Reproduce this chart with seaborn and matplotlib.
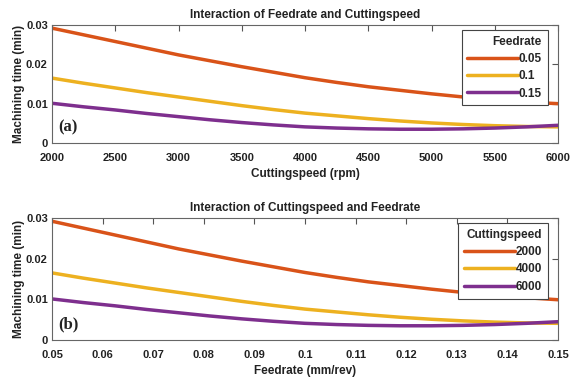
import numpy as np
import pandas as pd
import matplotlib
matplotlib.use("Agg")
import matplotlib.pyplot as plt
import seaborn as sns

# Cutting speed sweep (rpm) for three feed rates
speed = [2000, 2250, 2500, 2750, 3000, 3250, 3500, 3750, 4000,
         4250, 4500, 4750, 5000, 5250, 5500, 5750, 6000]
feed_levels = ["0.05", "0.1", "0.15"]
t_f005 = [0.0292, 0.0275, 0.0258, 0.0241, 0.0224, 0.0209, 0.0194, 0.0180, 0.0166,
          0.0154, 0.0143, 0.0134, 0.0125, 0.0117, 0.0110, 0.0104, 0.0100]
t_f010 = [0.0165, 0.0152, 0.0140, 0.0128, 0.0117, 0.0106, 0.0095, 0.0085, 0.0076,
          0.0069, 0.0062, 0.0056, 0.0051, 0.0047, 0.0044, 0.0042, 0.0041]
t_f015 = [0.0101, 0.0092, 0.0084, 0.0075, 0.0067, 0.0059, 0.0052, 0.0046, 0.0041,
          0.0038, 0.0036, 0.0035, 0.0035, 0.0036, 0.0038, 0.0041, 0.0045]

# Feed rate sweep (mm/rev) for three cutting speeds
feed = [0.05, 0.05625, 0.0625, 0.06875, 0.075, 0.08125, 0.0875, 0.09375, 0.10,
        0.10625, 0.1125, 0.11875, 0.125, 0.13125, 0.1375, 0.14375, 0.15]
speed_levels = ["2000", "4000", "6000"]
t_s2000 = [0.0292, 0.0275, 0.0258, 0.0241, 0.0224, 0.0209, 0.0194, 0.0180, 0.0166,
           0.0154, 0.0143, 0.0134, 0.0125, 0.0117, 0.0110, 0.0104, 0.0099]
t_s4000 = [0.0165, 0.0152, 0.0140, 0.0128, 0.0117, 0.0106, 0.0095, 0.0085, 0.0076,
           0.0069, 0.0062, 0.0056, 0.0051, 0.0047, 0.0044, 0.0042, 0.0041]
t_s6000 = [0.0101, 0.0092, 0.0084, 0.0075, 0.0067, 0.0059, 0.0052, 0.0046, 0.0041,
           0.0038, 0.0036, 0.0035, 0.0035, 0.0036, 0.0038, 0.0041, 0.0045]

colors = ["#D95319", "#EDB120", "#7E2F8E"]

sns.set_theme(style="white")
plt.rcParams["font.family"] = ["Liberation Sans Narrow", "Liberation Sans", "DejaVu Sans"]
plt.rcParams["font.weight"] = "bold"

df_a = pd.DataFrame({
    "x": speed * 3,
    "t": t_f005 + t_f010 + t_f015,
    "Feedrate": sum([[lv] * len(speed) for lv in feed_levels], []),
})
df_b = pd.DataFrame({
    "x": feed * 3,
    "t": t_s2000 + t_s4000 + t_s6000,
    "Cuttingspeed": sum([[lv] * len(feed) for lv in speed_levels], []),
})

fig = plt.figure(figsize=(5.74, 3.81), dpi=100)
ax_a = fig.add_axes([52 / 574, 1 - 143 / 381, 506 / 574, 118 / 381])
ax_b = fig.add_axes([52 / 574, 1 - 340 / 381, 506 / 574, 122 / 381])


def style_axes(ax, xticks, xticklabels, xlabel, title, tag, hue, anchor):
    ax.set_ylim(0, 0.03)
    ax.set_yticks([0, 0.01, 0.02, 0.03])
    ax.set_yticklabels(["0", "0.01", "0.02", "0.03"])
    ax.set_xticks(xticks)
    ax.set_xticklabels(xticklabels)
    ax.tick_params(direction="in", length=4, width=0.8, color="#555555",
                   labelsize=8, top=True, right=True, labelcolor="#222222")
    ax.tick_params(axis="x", pad=7)
    ax.tick_params(axis="y", pad=3)
    for lab in ax.get_xticklabels() + ax.get_yticklabels():
        lab.set_fontweight("bold")
    for sp in ax.spines.values():
        sp.set_color("#666666")
        sp.set_linewidth(0.8)
    ax.set_xlabel(xlabel, fontsize=8.5, fontweight="bold", color="#222222", labelpad=4)
    ax.set_ylabel("Machining time (min)", fontsize=8.5, fontweight="bold",
                  color="#222222", labelpad=1)
    ax.set_title(title, fontsize=8.5, fontweight="bold", color="#222222", pad=5)
    ax.text(0.012, 0.13, tag, transform=ax.transAxes, fontsize=12,
            fontweight="bold", family=["Liberation Serif", "DejaVu Serif"],
            color="#222222", va="center", ha="left")
    leg = ax.legend(title=hue, loc="upper right", bbox_to_anchor=anchor,
                    fontsize=8.5, title_fontsize=8.5, handlelength=4.3,
                    handletextpad=0.05, labelspacing=0.45, borderpad=0.5,
                    borderaxespad=0, frameon=True, fancybox=False,
                    framealpha=1.0, edgecolor="#444444", alignment="right")
    leg.get_frame().set_linewidth(0.8)
    leg.get_title().set_fontweight("bold")
    for t in leg.get_texts():
        t.set_fontweight("bold")
    for h in leg.get_lines():
        h.set_linewidth(2.5)


sns.lineplot(data=df_a, x="x", y="t", hue="Feedrate", hue_order=feed_levels,
             palette=colors, linewidth=2.5, ax=ax_a)
ax_a.set_xlim(2000, 6000)
style_axes(ax_a, list(range(2000, 6001, 500)),
           [str(v) for v in range(2000, 6001, 500)],
           "Cuttingspeed (rpm)", "Interaction of Feedrate and Cuttingspeed",
           "(a)", "Feedrate", (0.98, 0.96))

sns.lineplot(data=df_b, x="x", y="t", hue="Cuttingspeed", hue_order=speed_levels,
             palette=colors, linewidth=2.5, ax=ax_b)
ax_b.set_xlim(0.05, 0.15)
fticks = [0.05, 0.06, 0.07, 0.08, 0.09, 0.10, 0.11, 0.12, 0.13, 0.14, 0.15]
style_axes(ax_b, fticks,
           ["0.05", "0.06", "0.07", "0.08", "0.09", "0.1", "0.11", "0.12",
            "0.13", "0.14", "0.15"],
           "Feedrate (mm/rev)", "Interaction of Cuttingspeed and Feedrate",
           "(b)", "Cuttingspeed", (0.98, 0.96))

fig.savefig("out.png", dpi=100, facecolor="white")
